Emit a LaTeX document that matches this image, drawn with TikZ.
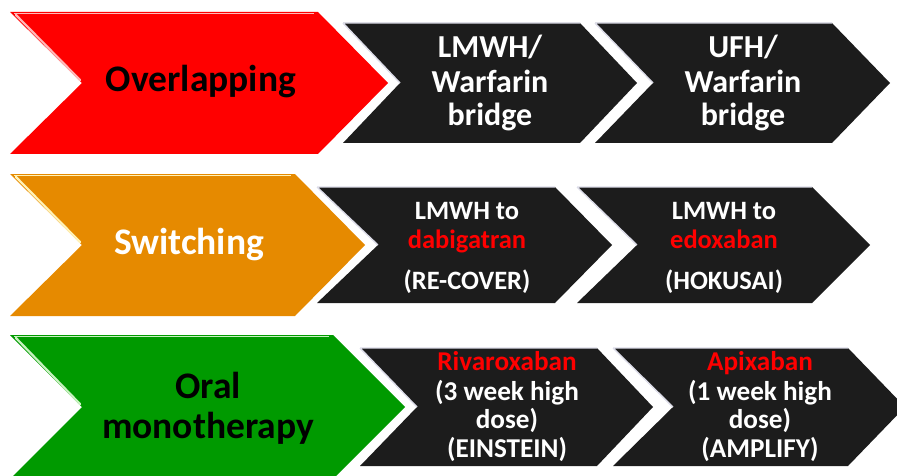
\documentclass[tikz,border=0pt]{standalone}
\usepackage{fontspec}
\setmainfont{Carlito}
\definecolor{cRed}{HTML}{FF0000}
\definecolor{cRedHi}{HTML}{FFB8B8}
\definecolor{cOrange}{HTML}{E68A00}
\definecolor{cOrangeHi}{HTML}{FFF2B8}
\definecolor{cGreen}{HTML}{009A00}
\definecolor{cGreenHi}{HTML}{C8F2C0}
\definecolor{cDark}{HTML}{1C1C1C}
\definecolor{cEdge}{HTML}{DCDCE8}
\begin{document}
\begin{tikzpicture}[x=1pt,y=-1pt,
  stage/.style={fill=#1,draw=none},
  hilite/.style={draw=#1,line width=2.2pt,line cap=round},
  darkedge/.style={draw=cEdge,line width=1.4pt},
  big/.style={font=\fontsize{37.5}{37.5}\selectfont\bfseries,anchor=base,inner sep=0pt},
  mid/.style={font=\fontsize{32}{32}\selectfont\bfseries,anchor=base,inner sep=0pt,text=white},
  small/.style={font=\fontsize{26.5}{26.5}\selectfont\bfseries,anchor=base,inner sep=0pt,text=white},
  smaller/.style={font=\fontsize{27.2}{27.2}\selectfont\bfseries,anchor=base,inner sep=0pt,text=white},
  drug/.style={text=cRed}]
\useasboundingbox (0,0) rectangle (897,476);
\clip (0,0) rectangle (897,476);

% ---- row 1: overlapping
\fill[stage=cRed] (10,12) -- (318,12) -- (388,83) -- (318,154) -- (10,154) -- (82,83) -- cycle;
\draw[hilite=cRedHi] (16,15) -- (80,80);
\draw[draw=cRedHi,line width=1.5pt] (14,13.5) -- (314,13.5);
\fill[stage=cDark] (343,23) -- (580,23) -- (637,83) -- (580,143) -- (343,143) -- (400,83) -- cycle;
\draw[darkedge] (343,23) -- (580,23) (343,23) -- (400,83);
\fill[stage=cDark] (595,23) -- (832,23) -- (890,83) -- (832,143) -- (595,143) -- (653,83) -- cycle;
\draw[darkedge] (595,23) -- (832,23) (595,23) -- (653,83);

\node[big] (ovl) at (201,92) {Overlapping};
\node[mid] (a1) at (490,58) {LMWH/};
\node[mid] (a2) at (490,93) {Warfarin};
\node[mid] (a3) at (490,126) {bridge};
\node[mid] (b1) at (743,58) {UFH/};
\node[mid] (b2) at (743,93) {Warfarin};
\node[mid] (b3) at (743,126) {bridge};

% ---- row 2: switching
\fill[stage=cOrange] (10,174) -- (295,174) -- (365,245) -- (295,316) -- (10,316) -- (82,245) -- cycle;
\draw[hilite=cOrangeHi] (16,177) -- (80,242);
\draw[draw=cOrangeHi,line width=1.5pt] (14,175.5) -- (291,175.5);
\fill[stage=cDark] (317,187) -- (555,187) -- (612,245) -- (555,303) -- (317,303) -- (378,245) -- cycle;
\draw[darkedge] (317,187) -- (555,187) (317,187) -- (378,245);
\fill[stage=cDark] (577,187) -- (812,187) -- (870,245) -- (812,303) -- (577,303) -- (637,245) -- cycle;
\draw[darkedge] (577,187) -- (812,187) (577,187) -- (637,245);

\node[big,text=white] (sw) at (189,254) {Switching};
\node[small] (c1) at (467,219) {LMWH to};
\node[small,drug] (c2) at (467,248) {dabigatran};
\node[small] (c3) at (467,289) {(RE-COVER)};
\node[small] (d1) at (724,219) {LMWH to};
\node[small,drug] (d2) at (724,248) {edoxaban};
\node[small] (d3) at (724,289) {(HOKUSAI)};

% ---- row 3: oral monotherapy
\fill[stage=cGreen] (10,335) -- (333,335) -- (405,407) -- (333,479) -- (10,479) -- (82,407) -- cycle;
\draw[hilite=cGreenHi] (16,338) -- (80,404);
\draw[draw=cGreenHi,line width=1.5pt] (14,336.5) -- (329,336.5);
\fill[stage=cDark] (360,348) -- (597,348) -- (653,407) -- (597,466) -- (360,466) -- (417,407) -- cycle;
\draw[darkedge] (360,348) -- (597,348) (360,348) -- (417,407);
\fill[stage=cDark] (613,348) -- (848,348) -- (905,407) -- (848,466) -- (613,466) -- (673,407) -- cycle;
\draw[darkedge] (613,348) -- (848,348) (613,348) -- (673,407);

\node[big] (or1) at (208,398) {Oral};
\node[big] (or2) at (208,438) {monotherapy};
\node[smaller,drug] (e1) at (507,370) {Rivaroxaban};
\node[smaller] (e2) at (507,400) {(3 week high};
\node[smaller] (e3) at (507,428) {dose)};
\node[smaller] (e4) at (507,457) {(EINSTEIN)};
\node[smaller,drug] (f1) at (760,370) {Apixaban};
\node[smaller] (f2) at (760,400) {(1 week high};
\node[smaller] (f3) at (760,428) {dose)};
\node[smaller] (f4) at (760,457) {(AMPLIFY)};
\end{tikzpicture}
\end{document}
